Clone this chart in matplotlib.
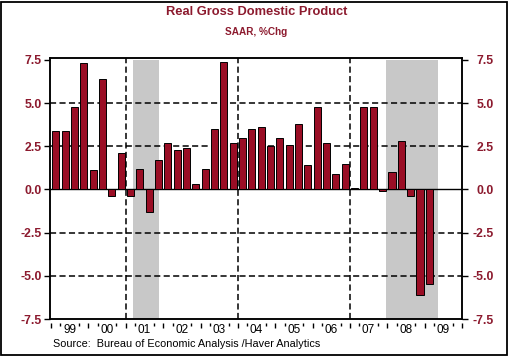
import matplotlib
matplotlib.use("Agg")
import matplotlib.pyplot as plt
from matplotlib.patches import Rectangle
from matplotlib.ticker import FixedLocator, NullFormatter

# quarterly real GDP, SAAR % change, 1999Q1 .. 2009Q1
first_year = 1999
gdp = [3.4, 3.4, 4.8, 7.3,
       1.1, 6.4, -0.4, 2.1,
       -0.4, 1.2, -1.3, 1.7,
       2.7, 2.3, 2.4, 0.3,
       1.2, 3.5, 7.4, 2.7,
       3.0, 3.5, 3.6, 2.5,
       3.0, 2.6, 3.8, 1.4,
       4.8, 2.7, 0.9, 1.5,
       0.1, 4.8, 4.8, -0.1,
       1.0, 2.8, -0.4, -6.1,
       -5.5]
recessions = [(2001.2, 2001.9), (2007.96, 2009.37)]
year_labels = ["99", "00", "01", "02", "03", "04", "05", "06", "07", "08", "09"]
yticks = [-7.5, -5.0, -2.5, 0.0, 2.5, 5.0, 7.5]

red = "#8c1a2e"
bar_red = "#9a0e25"
plt.rcParams["font.family"] = ["Liberation Sans", "DejaVu Sans"]

W, H = 510, 359
fig = plt.figure(figsize=(W / 100, H / 100), dpi=100)
ax = fig.add_axes([50 / W, 1 - 319 / H, 412 / W, 261.5 / H])

x = [first_year + i / 4 + 0.125 for i in range(len(gdp))]
ax.bar(x, gdp, width=0.19, color=bar_red, edgecolor="black", linewidth=0.7, zorder=3)

for a, b in recessions:
    ax.fill_betweenx([-7.5, 7.5], a, b, color="#c8c8c8", lw=0, zorder=0)

dash = (0, (4, 2.2))
for yv in [-5.0, -2.5, 2.5, 5.0]:
    ax.axhline(yv, color="black", lw=1.1, ls=dash, zorder=1)
for xv in [2001.0, 2004.0, 2007.0]:
    ax.axvline(xv, color="black", lw=1.1, ls=dash, zorder=1)
ax.axhline(0, color="black", lw=1.0, zorder=2)

ylim = (-7.5, 7.64)
ax.set_xlim(1998.97, 2010.0)
ax.set_ylim(*ylim)
for s in ax.spines.values():
    s.set_linewidth(1.1)

ax.set_xticks([])
ax.set_yticks(yticks)
ax.set_yticklabels([f"{v:.1f}" for v in yticks], fontweight="bold")
ax.tick_params(axis="y", direction="out", length=4.6, width=1.0, pad=1.2,
               labelsize=8.8, labelcolor=red)

# right-hand scale, labels right-aligned near the frame
ax2 = ax.twinx()
ax2.set_ylim(*ylim)
ax2.set_yticks(yticks)
ax2.set_yticklabels([f"{v:.1f}" for v in yticks], fontweight="bold", ha="right")
ax2.tick_params(axis="y", direction="out", length=4.3, width=1.0, pad=18.5,
                labelsize=8.8, labelcolor=red)
for s in ax2.spines.values():
    s.set_linewidth(1.1)

years = list(range(first_year, first_year + len(year_labels) + 1))
loc = -3.7 / 261.5
sec = ax.secondary_xaxis(loc)
sec.spines["bottom"].set_visible(False)
sec.xaxis.set_major_locator(FixedLocator(years))
sec.xaxis.set_major_formatter(NullFormatter())
sec.xaxis.set_minor_locator(FixedLocator([y + f for y in years[:-1] for f in (0.25, 0.75)]))
sec.tick_params(which="major", length=3.5, width=1.0, direction="out")
sec.tick_params(which="minor", length=1.8, width=1.0, direction="out")

sec2 = ax.secondary_xaxis(loc)
sec2.spines["bottom"].set_visible(False)
sec2.set_xticks([y + 0.5 for y in years[:-1]])
sec2.set_xticklabels(year_labels)
sec2.tick_params(length=0, pad=0.8, labelsize=8.5, labelcolor="black")

fig.text(0.503, 1 - 12 / H, "Real Gross Domestic Product", ha="center", va="center",
         fontsize=9.3, fontweight="bold", color=red)
fig.text(0.503, 1 - 32 / H, "SAAR, %Chg", ha="center", va="center",
         fontsize=7.2, fontweight="bold", color=red)
fig.text(53 / W, 1 - 344 / H, "Source:  Bureau of Economic Analysis /Haver Analytics",
         ha="left", va="center", fontsize=7.85, color="black")

fig.patches.append(Rectangle((1.5 / W, 1 - 355 / H), 506 / W, 353.5 / H,
                             transform=fig.transFigure, fill=False,
                             edgecolor="black", lw=1.3))

fig.savefig("out.png", dpi=100)
plt.close(fig)
